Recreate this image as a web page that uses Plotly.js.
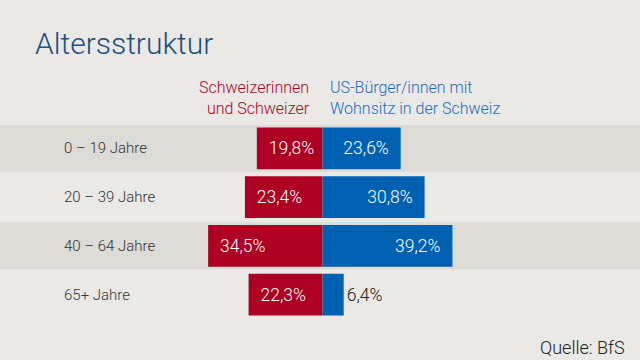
<!DOCTYPE html>
<html><head><meta charset="utf-8">
<script src="https://cdn.plot.ly/plotly-3.0.1.min.js"></script>
<style>html,body{margin:0;padding:0;background:#ebe9e5;}#c{width:640px;height:360px;}</style>
</head><body><div id="c"></div>
<script>
const categories = ['0 – 19 Jahre', '20 – 39 Jahre', '40 – 64 Jahre', '65+ Jahre'];
const swiss = [19.8, 23.4, 34.5, 22.3];
const us = [23.6, 30.8, 39.2, 6.4];
const seriesNames = ['Schweizerinnen<br>und Schweizer', 'US-Bürger/innen mit<br>Wohnsitz in der Schweiz'];
const titleText = 'Altersstruktur';
const sourceText = 'Quelle: BfS';

const RED = '#ae0022', BLUE = '#0061b2';
const FONT = 'Roboto, "Noto Sans", sans-serif';
const fmt = v => v.toFixed(1).replace('.', ',') + '%';

const traces = [
  {type:'bar', orientation:'h', y:categories, x:swiss.map(v => -v), base:0,
   text:swiss.map(v => '\u2002' + fmt(v)), textposition:'auto', insidetextanchor:'end',
   insidetextfont:{color:'#ffffff', size:17.5, family:FONT, weight:300},
   outsidetextfont:{color:'#222', size:17.5, family:FONT, weight:300},
   marker:{color:RED}, hoverinfo:'skip', cliponaxis:false},
  {type:'bar', orientation:'h', y:categories, x:us,
   text:us.map(v => fmt(v) + '\u2002'), textposition:'auto', insidetextanchor:'end',
   insidetextfont:{color:'#ffffff', size:17.5, family:FONT, weight:300},
   outsidetextfont:{color:'#222', size:17.5, family:FONT, weight:300},
   marker:{color:BLUE}, hoverinfo:'skip', cliponaxis:false}
];

const shapes = categories.map((c, i) => i % 2 === 0 ? {
  type:'rect', xref:'paper', yref:'y', x0:0, x1:1, y0:i-0.48, y1:i+0.48,
  fillcolor:'#dddbd6', line:{width:0}, layer:'below'} : null).filter(Boolean);

const annotations = categories.map((c, i) => ({
  xref:'paper', yref:'y', x:62/640, y:i, xanchor:'left', yanchor:'middle',
  text:c, showarrow:false, font:{size:15, color:'#333', family:FONT, weight:300}}));
annotations.push(
  {xref:'paper', yref:'paper', x:312/640, xanchor:'right', y:1.02, yanchor:'bottom', align:'right',
   text:seriesNames[0], showarrow:false, font:{size:16, color:RED, family:FONT, weight:300}},
  {xref:'paper', yref:'paper', x:328/640, xanchor:'left', y:1.02, yanchor:'bottom', align:'left',
   text:seriesNames[1], showarrow:false, font:{size:16, color:'#1a6cbf', family:FONT, weight:300}},
  {xref:'paper', yref:'paper', x:627/640, xanchor:'right', y:-0.145, yanchor:'middle',
   text:sourceText, showarrow:false, font:{size:18, color:'#222', family:FONT, weight:300}}
);

const layout = {
  width:640, height:360,
  paper_bgcolor:'#ebe9e5', plot_bgcolor:'rgba(0,0,0,0)',
  margin:{l:0, r:0, t:124, b:41},
  title:{text:titleText, x:35/640, xanchor:'left', y:0.85, yanchor:'bottom',
         font:{size:30, color:'#1d4f82', family:FONT, weight:300}},
  barmode:'overlay', bargap:0.14, showlegend:false,
  xaxis:{range:[-97.3, 95.8], visible:false, fixedrange:true},
  yaxis:{type:'category', range:[3.5, -0.5], visible:false, fixedrange:true},
  shapes:shapes, annotations:annotations
};
Plotly.newPlot('c', traces, layout, {displayModeBar:false, staticPlot:true});
</script></body></html>
